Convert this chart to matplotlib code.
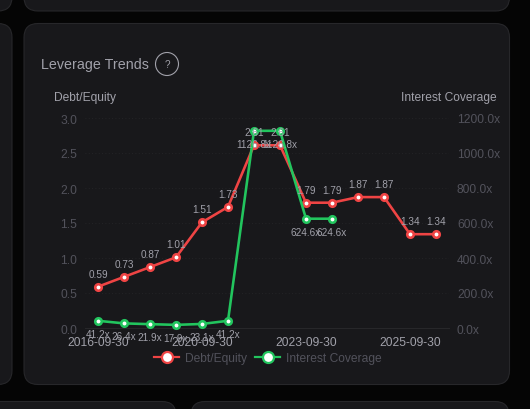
import matplotlib
matplotlib.use('Agg')
import matplotlib.pyplot as plt
from matplotlib.patches import FancyBboxPatch, Circle
import numpy as np

periods = ['2016-09-30', '2017-09-30', '2018-09-30', '2019-09-30', '2020-09-30',
           '2021-09-30', '2022-03-31', '2022-09-30', '2023-09-30', '2024-03-31',
           '2024-09-30', '2025-03-31', '2025-09-30', '2026-03-31']
debt_equity = [0.59, 0.73, 0.87, 1.01, 1.51, 1.73, 2.61, 2.61, 1.79, 1.79, 1.87, 1.87, 1.34, 1.34]
coverage = [41.2, 26.4, 21.9, 17.9, 23.1, 41.2, 1126.8, 1126.8, 624.6, 624.6,
            np.nan, np.nan, np.nan, np.nan]
left_ticks = [0.0, 0.5, 1.0, 1.5, 2.0, 2.5, 3.0]
right_ticks = [0, 200, 400, 600, 800, 1000, 1200]
date_ticks = [0, 4, 8, 12]

W, H = 530, 410
RED = '#ef4444'
GREEN = '#22c55e'
CARD = '#18181b'
EDGE = '#27272a'
MUTED = '#a1a1aa'
DIM = '#52525b'
PX = 0.72  # points per pixel at dpi 100

plt.rcParams['font.family'] = ['Liberation Sans', 'DejaVu Sans']

fig = plt.figure(figsize=(W / 100, H / 100), dpi=100, facecolor='#050505')

# page background with the cards, in pixel coordinates
bg = fig.add_axes([0, 0, 1, 1])
bg.set_xlim(0, W)
bg.set_ylim(H, 0)
bg.axis('off')
cards = [(24, 24.5, 485.5, 361), (-200, 24.5, 212, 361), (-200, -200, 212, 212),
         (24, -200, 485.5, 212), (-200, 402.5, 376, 100), (191, 402.5, 318, 100)]
for x, y, w, h in cards:
    bg.add_patch(FancyBboxPatch((x + 14, y + 14), w - 28, h - 28,
                                boxstyle='round,pad=14,rounding_size=14',
                                fc=CARD, ec=EDGE, lw=0.8))
bg.text(41, 65.5, 'Leverage Trends', color=MUTED, fontsize=14.2 * PX, va='center', ha='left')
bg.add_patch(Circle((167, 65), 11.5, fc='none', ec=MUTED, lw=0.8))
bg.text(167, 65, '?', color=MUTED, fontsize=10 * PX, va='center', ha='center')
bg.text(54, 98, 'Debt/Equity', color=MUTED, fontsize=12 * PX, va='center', ha='left')
bg.text(497, 98, 'Interest Coverage', color=MUTED, fontsize=12 * PX, va='center', ha='right')

ax = fig.add_axes([85 / W, 1 - 329 / H, 364 / W, 210 / H])
ax.set_facecolor('none')
xs = np.arange(len(periods))
ax.set_xlim(-0.5, len(periods) - 0.5)
ax.set_ylim(0, 3)
ax.set_yticks(left_ticks)
ax.set_yticklabels([f'{t:.1f}' for t in left_ticks])
ax.set_xticks(date_ticks)
ax.set_xticklabels([periods[i] for i in date_ticks])
ax.tick_params(axis='y', length=0, pad=8 * PX, labelsize=12 * PX, labelcolor=DIM)
ax.tick_params(axis='x', length=0, pad=8 * PX, labelsize=12 * PX, labelcolor=MUTED)
ax.grid(axis='y', color='#27272a', lw=0.6, ls=(0, (1, 3)))
for side in ['top', 'left', 'right']:
    ax.spines[side].set_visible(False)
ax.spines['bottom'].set_color(EDGE)
ax.spines['bottom'].set_linewidth(0.8)

ax2 = ax.twinx()
ax2.set_facecolor('none')
ax2.set_ylim(0, 1200)
ax2.set_yticks(right_ticks)
ax2.set_yticklabels([f'{t:.1f}x' for t in right_ticks])
ax2.tick_params(axis='y', length=0, pad=8 * PX, labelsize=12 * PX, labelcolor=DIM)
for side in ax2.spines:
    ax2.spines[side].set_visible(False)

line_de, = ax.plot(xs, debt_equity, color=RED, lw=2.6 * PX, marker='o', ms=6.5 * PX,
                   mfc='white', mec=RED, mew=2.6 * PX, clip_on=False, zorder=3)
line_cov, = ax2.plot(xs, coverage, color=GREEN, lw=2.6 * PX, marker='o', ms=6.5 * PX,
                     mfc='white', mec=GREEN, mew=2.6 * PX, clip_on=False, zorder=3)

# data labels go on the top axes so they sit over both lines
for i, v in enumerate(debt_equity):
    ax2.annotate(f'{v:.2f}', (i, v), xycoords=ax.transData, xytext=(0, 13 * PX),
                 textcoords='offset points', ha='center', va='center',
                 color=MUTED, fontsize=10 * PX, zorder=5, annotation_clip=False)
for i, v in enumerate(coverage):
    if not np.isnan(v):
        ax2.annotate(f'{v:.1f}x', (i, v), xytext=(0, -13 * PX),
                     textcoords='offset points', ha='center', va='center',
                     color=MUTED, fontsize=10 * PX, zorder=5, annotation_clip=False)

legend_de, = bg.plot([], [], color=RED, lw=2.2 * PX, marker='o', ms=11 * PX,
                     mfc='white', mec=RED, mew=2.2 * PX)
legend_cov, = bg.plot([], [], color=GREEN, lw=2.2 * PX, marker='o', ms=11 * PX,
                      mfc='white', mec=GREEN, mew=2.2 * PX)
fig.legend([legend_de, legend_cov], ['Debt/Equity', 'Interest Coverage'],
           loc='center', bbox_to_anchor=(268 / W, 1 - 359.5 / H), ncol=2, frameon=False,
           fontsize=12 * PX, labelcolor=DIM, handlelength=2.1, handletextpad=0.5,
           columnspacing=0.65, borderpad=0)

fig.savefig('out.png', dpi=100, facecolor=fig.get_facecolor())
